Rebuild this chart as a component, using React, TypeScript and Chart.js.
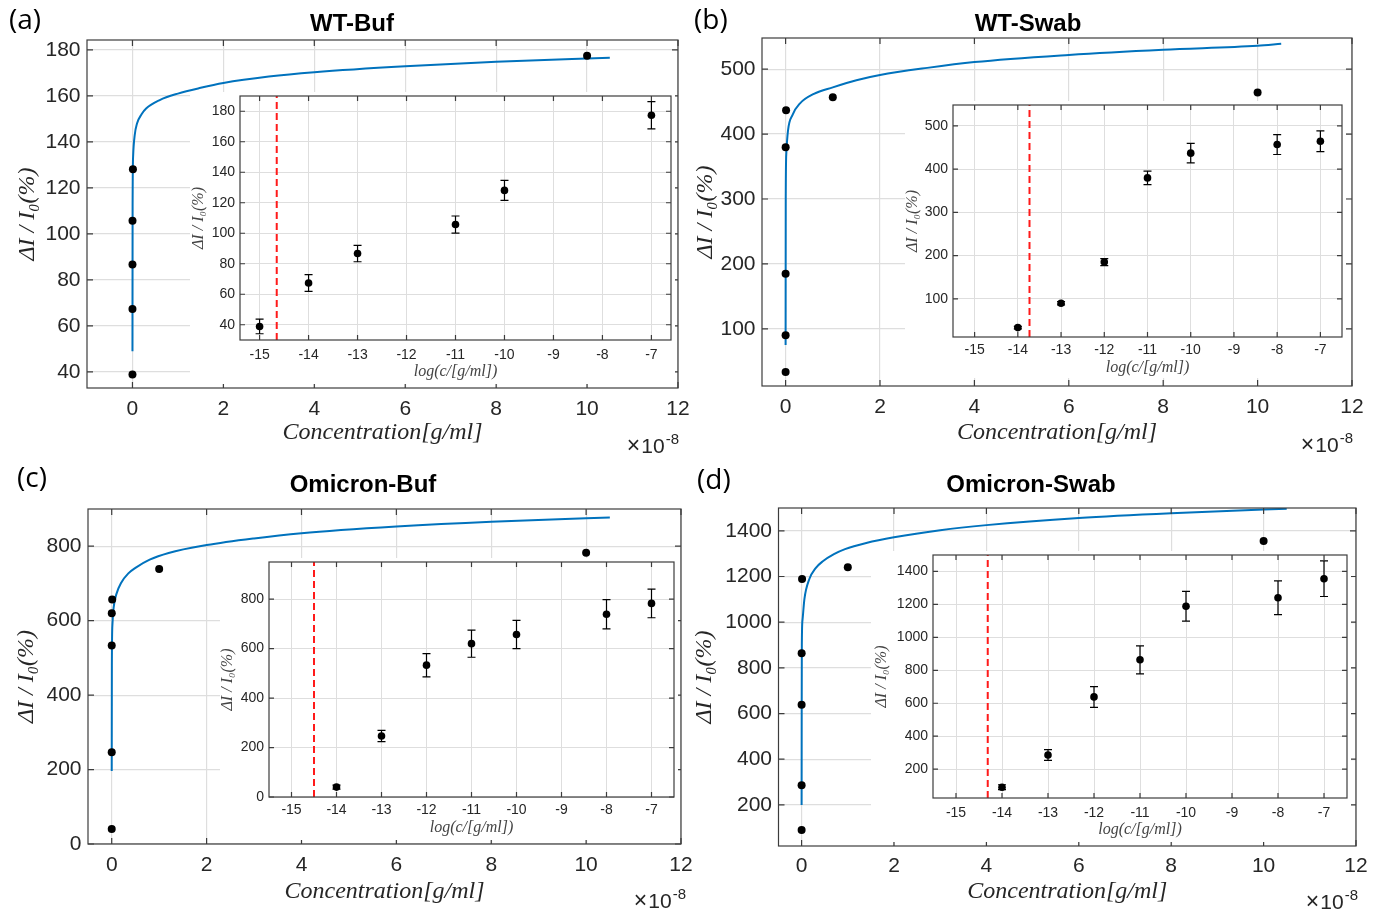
import React, { useEffect, useRef } from 'react';
import { Chart, registerables } from 'chart.js';

Chart.register(...registerables);

// ---------------- data ----------------
const MAIN_X_TICKS = [0, 2, 4, 6, 8, 10, 12];
const LOG_X_TICKS = [-15, -14, -13, -12, -11, -10, -9, -8, -7];
const PANEL_LABELS = ['(a)', '(b)', '(c)', '(d)'];
const X_TITLE_MAIN = 'Concentration[g/ml]';
const X_TITLE_INSET = 'log(c/[g/ml])';
const Y_TITLE = 'ΔI / I₀(%)';

// (a) WT-Buf
const A_TITLE = 'WT-Buf';
const A_LOG_C = [-15, -14, -13, -11, -10, -7];
const A_RESPONSE = [38.9, 67.4, 86.7, 105.7, 128.1, 177.4];
const A_ERROR = [4.8, 5.5, 5.4, 5.6, 6.6, 8.9];
const A_FIT_X = [0, 0.003, 0.015, 0.05, 0.1, 0.2, 0.3, 0.6, 1, 1.5, 2, 3, 4, 6, 8, 10.5];
const A_FIT_Y = [49, 112, 134, 143, 148, 152, 154.5, 158.2, 161, 163.5, 165.6, 168.4, 170.3, 172.9, 174.8, 176.6];
const A_LOD = -14.65;
const A_Y_TICKS = [40, 60, 80, 100, 120, 140, 160, 180];

// (b) WT-Swab
const B_TITLE = 'WT-Swab';
const B_LOG_C = [-14, -13, -12, -11, -10, -8, -7];
const B_RESPONSE = [33.7, 90, 185, 379.6, 436.8, 456.6, 464.2];
const B_ERROR = [3, 4, 8, 15.6, 22.5, 23, 24];
const B_FIT_X = [0, 0.003, 0.015, 0.05, 0.15, 0.3, 0.6, 1, 1.5, 2, 3, 4, 6, 8, 10, 10.5];
const B_FIT_Y = [75, 300, 370, 405, 430, 447, 462, 472, 483, 491, 502, 511, 522, 530, 536, 539];
const B_LOD = -13.73;
const B_Y_TICKS = [100, 200, 300, 400, 500];

// (c) Omicron-Buf
const C_TITLE = 'Omicron-Buf';
const C_LOG_C = [-14, -13, -12, -11, -10, -8, -7];
const C_RESPONSE = [40, 246.7, 533, 620, 657, 738.7, 782.7];
const C_ERROR = [8, 23, 47, 55, 57, 59, 58];
const C_FIT_X = [0, 0.003, 0.015, 0.04, 0.1, 0.2, 0.35, 0.5, 0.8, 1.2, 2, 3, 4, 6, 8, 10, 10.5];
const C_FIT_Y = [196, 480, 590, 635, 672, 702, 727, 742, 764, 782, 803, 821, 835, 853, 866, 875, 877];
const C_LOD = -14.5;
const C_Y_TICKS = [0, 200, 400, 600, 800];

// (d) Omicron-Swab
const D_TITLE = 'Omicron-Swab';
const D_LOG_C = [-14, -13, -12, -11, -10, -8, -7];
const D_RESPONSE = [90.5, 285.8, 638.6, 863.8, 1188.7, 1240.5, 1356];
const D_ERROR = [15, 33, 63, 85, 90, 103, 108];
const D_FIT_X = [0, 0.002, 0.005, 0.02, 0.06, 0.17, 0.3, 0.46, 0.7, 0.94, 1.4, 2, 3, 4, 6, 8, 10, 10.5];
const D_FIT_Y = [200, 600, 900, 1010, 1100, 1190, 1236, 1267, 1298, 1320, 1347, 1372, 1403, 1425, 1456, 1477, 1493, 1497];
const D_LOD = -14.31;
const D_Y_TICKS = [200, 400, 600, 800, 1000, 1200, 1400];

// ---------------- styles ----------------
const SANS = '"Liberation Sans", Arial, sans-serif';
const SERIF = '"Liberation Serif", "DejaVu Serif", serif';
const AXIS_COLOR = '#262626';
const FRAME_COLOR = '#3c3c3c';
const GRID_COLOR = '#dedede';
const FIT_COLOR = '#0072BD';
const MAIN_TITLE_FS = 24;
const MAIN_TICK_FS = 21;
const MAIN_AXIS_FS = 24;
const INSET_TICK_FS = 14;
const INSET_AXIS_FS = 16;

// conversion of log10 concentration to the main axis unit (x 1e-8 g/ml)
const toMainX = (lg: number) => Math.pow(10, lg + 8);

const PANELS = [
  {
    key: 'a', label: PANEL_LABELS[0], title: A_TITLE, logC: A_LOG_C, response: A_RESPONSE, error: A_ERROR,
    fitX: A_FIT_X, fitY: A_FIT_Y, lod: A_LOD, yTicks: A_Y_TICKS,
    main: { region: { l: 0, t: 0, r: 690, b: 455 }, box: { l: 87, t: 40, r: 678, b: 388 }, titleX: 352, titleY: 24, yTitleX: 28, xTickY: 409, xTitleY: 433, x: [-1, 12], y: [33, 184.3] },
    inset: { region: { l: 190, t: 92, r: 675, b: 384 }, box: { l: 240, t: 93, r: 673, b: 340 }, yTitleX: 199, xTickY: 355, xTitleY: 372, x: [-15.4, -6.6], y: [30, 190] },
    labelPos: { l: 9, t: 4 }, exp: { r: 679, t: 435 },
  },
  {
    key: 'b', label: PANEL_LABELS[1], title: B_TITLE, logC: B_LOG_C, response: B_RESPONSE, error: B_ERROR,
    fitX: B_FIT_X, fitY: B_FIT_Y, lod: B_LOD, yTicks: B_Y_TICKS,
    main: { region: { l: 690, t: 0, r: 1386, b: 455 }, box: { l: 762, t: 38, r: 1352, b: 386 }, titleX: 1028, titleY: 24, yTitleX: 706, xTickY: 407, xTitleY: 433, x: [-0.5, 12], y: [12, 548] },
    inset: { region: { l: 905, t: 101, r: 1346, b: 378 }, box: { l: 953, t: 102, r: 1344, b: 337 }, yTitleX: 913, xTickY: 350, xTitleY: 368, x: [-15.5, -6.5], y: [12, 548] },
    labelPos: { l: 694, t: 4 }, exp: { r: 1353, t: 434 },
  },
  {
    key: 'c', label: PANEL_LABELS[2], title: C_TITLE, logC: C_LOG_C, response: C_RESPONSE, error: C_ERROR,
    fitX: C_FIT_X, fitY: C_FIT_Y, lod: C_LOD, yTicks: C_Y_TICKS,
    main: { region: { l: 0, t: 455, r: 712, b: 910 }, box: { l: 88, t: 509, r: 681, b: 844 }, titleX: 363, titleY: 485, yTitleX: 27, xTickY: 865, xTitleY: 892, x: [-0.5, 12], y: [0, 900] },
    inset: { region: { l: 220, t: 558, r: 678, b: 840 }, box: { l: 269, t: 559, r: 676, b: 797 }, yTitleX: 228, xTickY: 810, xTitleY: 828, x: [-15.5, -6.5], y: [0, 950] },
    labelPos: { l: 17, t: 462 }, exp: { r: 686, t: 890 },
  },
  {
    key: 'd', label: PANEL_LABELS[3], title: D_TITLE, logC: D_LOG_C, response: D_RESPONSE, error: D_ERROR,
    fitX: D_FIT_X, fitY: D_FIT_Y, lod: D_LOD, yTicks: D_Y_TICKS,
    main: { region: { l: 690, t: 455, r: 1386, b: 910 }, box: { l: 778.5, t: 508, r: 1356, b: 846 }, titleX: 1031, titleY: 485, yTitleX: 705, xTickY: 866, xTitleY: 892, x: [-0.5, 12], y: [20, 1500] },
    inset: { region: { l: 871, t: 551, r: 1351, b: 842 }, box: { l: 933, t: 552, r: 1349, b: 798 }, yTitleX: 882, xTickY: 813, xTitleY: 830, x: [-15.5, -6.5], y: [25, 1500] },
    labelPos: { l: 697, t: 464 }, exp: { r: 1358, t: 891 },
  },
];

// ---------------- helpers ----------------
const fixTicks = (values: number[]) => (scale: any) => {
  scale.ticks = values.map((v) => ({ value: v }));
};
const fitAxis = (dim: 'width' | 'height', size: number) => (scale: any) => {
  scale[dim] = size;
  scale.paddingLeft = 0;
  scale.paddingRight = 0;
  scale.paddingTop = 0;
  scale.paddingBottom = 0;
};
const fmt = (v: any) => String(v);

const framePlugin = (tickLen: number) => ({
  id: 'matlabFrame',
  afterDatasetsDraw(chart: any) {
    const { ctx } = chart;
    const xs = chart.scales.x;
    const ys = chart.scales.y;
    chart.data.datasets.forEach((ds: any, i: number) => {
      if (!ds.errors) return;
      const meta = chart.getDatasetMeta(i);
      if (meta.hidden) return;
      ctx.save();
      ctx.strokeStyle = '#000';
      ctx.lineWidth = 1.2;
      ds.data.forEach((pt: any, j: number) => {
        const e = ds.errors[j];
        const px = xs.getPixelForValue(pt.x);
        const top = ys.getPixelForValue(pt.y + e);
        const bot = ys.getPixelForValue(pt.y - e);
        ctx.beginPath();
        ctx.moveTo(px, top); ctx.lineTo(px, bot);
        ctx.moveTo(px - 4, top); ctx.lineTo(px + 4, top);
        ctx.moveTo(px - 4, bot); ctx.lineTo(px + 4, bot);
        ctx.stroke();
      });
      ctx.restore();
    });
  },
  afterDraw(chart: any) {
    const { ctx, chartArea } = chart;
    const { left, right, top, bottom } = chartArea;
    const xs = chart.scales.x;
    const ys = chart.scales.y;
    ctx.save();
    ctx.strokeStyle = FRAME_COLOR;
    ctx.lineWidth = 1.2;
    ctx.beginPath();
    xs.ticks.forEach((t: any) => {
      const px = xs.getPixelForValue(t.value);
      if (px < left - 0.5 || px > right + 0.5) return;
      ctx.moveTo(px, bottom); ctx.lineTo(px, bottom - tickLen);
      ctx.moveTo(px, top); ctx.lineTo(px, top + tickLen);
    });
    ys.ticks.forEach((t: any) => {
      const py = ys.getPixelForValue(t.value);
      if (py < top - 0.5 || py > bottom + 0.5) return;
      ctx.moveTo(left, py); ctx.lineTo(left + tickLen, py);
      ctx.moveTo(right, py); ctx.lineTo(right - tickLen, py);
    });
    ctx.stroke();
    ctx.strokeRect(left, top, right - left, bottom - top);
    ctx.restore();
  },
});

function mainConfig(p: any) {
  const g = p.main;
  const W = g.region.r - g.region.l;
  const H = g.region.b - g.region.t;
  const cx0 = g.region.l;
  const cy0 = g.region.t;
  const D = 2 * (g.titleX - cx0) - W;
  const padL = Math.max(D, 0);
  const padR = Math.max(-D, 0);
  const yW = g.box.l - cx0 - padL;
  const y2W = cx0 + W - padR - g.box.r;
  const padT = g.titleY - cy0 - MAIN_TITLE_FS / 2;
  const titlePadB = g.box.t - cy0 - padT - MAIN_TITLE_FS;
  const xH = cy0 + H - g.box.b;
  const xTitlePadB = cy0 + H - g.xTitleY - MAIN_AXIS_FS / 2;
  const xTickPad = g.xTickY - g.box.b - MAIN_TICK_FS / 2;
  const yTitlePadT = g.yTitleX - cx0 - padL - MAIN_AXIS_FS / 2;

  return {
    type: 'scatter',
    data: {
      datasets: [
        {
          label: 'measured',
          data: p.logC.map((lg: number, i: number) => ({ x: toMainX(lg), y: p.response[i] })),
          pointRadius: 4,
          pointBackgroundColor: '#000',
          pointBorderColor: '#000',
          pointBorderWidth: 0,
          showLine: false,
        },
        {
          type: 'line',
          label: 'fit',
          data: p.fitX.map((x: number, i: number) => ({ x, y: p.fitY[i] })),
          borderColor: FIT_COLOR,
          borderWidth: 2,
          pointRadius: 0,
          cubicInterpolationMode: 'monotone',
          fill: false,
        },
      ],
    },
    options: {
      responsive: false,
      animation: false,
      events: [],
      layout: { padding: { left: padL, right: padR, top: padT, bottom: 0 } },
      plugins: {
        legend: { display: false },
        tooltip: { enabled: false },
        title: {
          display: true,
          text: p.title,
          color: '#000',
          font: { family: SANS, size: MAIN_TITLE_FS, weight: 'bold', lineHeight: 1 },
          padding: { top: 0, bottom: titlePadB },
        },
      },
      scales: {
        x: {
          type: 'linear', position: 'bottom', min: g.x[0], max: g.x[1],
          afterBuildTicks: fixTicks(MAIN_X_TICKS),
          afterFit: fitAxis('height', xH),
          grid: { color: GRID_COLOR, lineWidth: 1.2, drawTicks: false },
          border: { display: false },
          ticks: { color: AXIS_COLOR, font: { family: SANS, size: MAIN_TICK_FS, lineHeight: 1 }, padding: xTickPad, autoSkip: false, maxRotation: 0, minRotation: 0, callback: fmt },
          title: { display: true, text: X_TITLE_MAIN, color: AXIS_COLOR, font: { family: SERIF, size: MAIN_AXIS_FS, style: 'italic', lineHeight: 1 }, padding: { top: 0, bottom: xTitlePadB } },
        },
        y: {
          type: 'linear', position: 'left', min: g.y[0], max: g.y[1],
          afterBuildTicks: fixTicks(p.yTicks),
          afterFit: fitAxis('width', yW),
          grid: { color: GRID_COLOR, lineWidth: 1.2, drawTicks: false },
          border: { display: false },
          ticks: { color: AXIS_COLOR, font: { family: SANS, size: MAIN_TICK_FS, lineHeight: 1 }, padding: 6.5, autoSkip: false, callback: fmt },
          title: { display: true, text: Y_TITLE, color: AXIS_COLOR, font: { family: SERIF, size: MAIN_AXIS_FS, style: 'italic', lineHeight: 1 }, padding: { top: yTitlePadT, bottom: 0 } },
        },
        y2: {
          type: 'linear', position: 'right', display: true,
          afterFit: fitAxis('width', y2W),
          grid: { display: false },
          border: { display: false },
          ticks: { display: false },
          title: { display: false },
        },
      },
    },
    plugins: [framePlugin(6)],
  };
}

function insetConfig(p: any) {
  const g = p.inset;
  const W = g.region.r - g.region.l;
  const H = g.region.b - g.region.t;
  const cx0 = g.region.l;
  const cy0 = g.region.t;
  const yW = g.box.l - cx0;
  const padR = cx0 + W - g.box.r;
  const padT = g.box.t - cy0;
  const xH = cy0 + H - g.box.b;
  const xTitlePadB = cy0 + H - g.xTitleY - INSET_AXIS_FS / 2;
  const xTickPad = g.xTickY - g.box.b - INSET_TICK_FS / 2;
  const yTitlePadT = g.yTitleX - cx0 - INSET_AXIS_FS / 2;

  return {
    type: 'scatter',
    data: {
      datasets: [
        {
          label: 'measured',
          data: p.logC.map((lg: number, i: number) => ({ x: lg, y: p.response[i] })),
          errors: p.error,
          pointRadius: 3.8,
          pointBackgroundColor: '#000',
          pointBorderColor: '#000',
          pointBorderWidth: 0,
          showLine: false,
        },
        {
          type: 'line',
          label: 'LOD',
          data: [{ x: p.lod, y: g.y[0] }, { x: p.lod, y: g.y[1] }],
          borderColor: '#ff1a1a',
          borderWidth: 2,
          borderDash: [7, 4],
          pointRadius: 0,
          fill: false,
        },
      ],
    },
    options: {
      responsive: false,
      animation: false,
      events: [],
      layout: { padding: { left: 0, right: padR, top: padT, bottom: 0 } },
      plugins: { legend: { display: false }, tooltip: { enabled: false }, title: { display: false } },
      scales: {
        x: {
          type: 'linear', position: 'bottom', min: g.x[0], max: g.x[1],
          afterBuildTicks: fixTicks(LOG_X_TICKS),
          afterFit: fitAxis('height', xH),
          grid: { color: GRID_COLOR, lineWidth: 1, drawTicks: false },
          border: { display: false },
          ticks: { color: AXIS_COLOR, font: { family: SANS, size: INSET_TICK_FS, lineHeight: 1 }, padding: xTickPad, autoSkip: false, maxRotation: 0, minRotation: 0, callback: fmt },
          title: { display: true, text: X_TITLE_INSET, color: '#444', font: { family: SERIF, size: INSET_AXIS_FS, style: 'italic', lineHeight: 1 }, padding: { top: 0, bottom: xTitlePadB } },
        },
        y: {
          type: 'linear', position: 'left', min: g.y[0], max: g.y[1],
          afterBuildTicks: fixTicks(p.yTicks),
          afterFit: fitAxis('width', yW),
          grid: { color: GRID_COLOR, lineWidth: 1, drawTicks: false },
          border: { display: false },
          ticks: { color: AXIS_COLOR, font: { family: SANS, size: INSET_TICK_FS, lineHeight: 1 }, padding: 5, autoSkip: false, callback: fmt },
          title: { display: true, text: Y_TITLE, color: '#444', font: { family: SERIF, size: INSET_AXIS_FS, style: 'italic', lineHeight: 1 }, padding: { top: yTitlePadT, bottom: 0 } },
        },
      },
    },
    plugins: [framePlugin(5)],
  };
}

function ChartCanvas({ region, build, bg }: any) {
  const ref = useRef<HTMLCanvasElement | null>(null);
  useEffect(() => {
    if (!ref.current) return;
    const chart = new Chart(ref.current, build() as any);
    return () => chart.destroy();
  }, []);
  const w = region.r - region.l;
  const h = region.b - region.t;
  return (
    <canvas
      ref={ref}
      width={w}
      height={h}
      style={{ position: 'absolute', left: region.l, top: region.t, width: w, height: h, background: bg || 'transparent', display: 'block' }}
    />
  );
}

export default function App() {
  return (
    <div style={{ position: 'absolute', left: 0, top: 0, width: 1386, height: 910, background: '#fff', overflow: 'hidden' }}>
      {PANELS.map((p) => (
        <ChartCanvas key={p.key + '-main'} region={p.main.region} build={() => mainConfig(p)} />
      ))}
      {PANELS.map((p) => (
        <ChartCanvas key={p.key + '-inset'} region={p.inset.region} build={() => insetConfig(p)} bg="#fff" />
      ))}
      {PANELS.map((p) => (
        <div
          key={p.key + '-label'}
          style={{ position: 'absolute', left: p.labelPos.l, top: p.labelPos.t, fontFamily: '"Open Sans", sans-serif', fontSize: 28, lineHeight: '28px', color: '#000', whiteSpace: 'nowrap' }}
        >
          {p.label}
        </div>
      ))}
      {PANELS.map((p) => (
        <div
          key={p.key + '-exp'}
          style={{ position: 'absolute', right: 1386 - p.exp.r, top: p.exp.t, fontFamily: SANS, fontSize: 21, lineHeight: '21px', color: AXIS_COLOR, whiteSpace: 'nowrap' }}
        >
          <span style={{ fontSize: 23, marginRight: 1 }}>×</span>10<span style={{ fontSize: 15, position: 'relative', top: -9, marginLeft: 1 }}>-8</span>
        </div>
      ))}
    </div>
  );
}
